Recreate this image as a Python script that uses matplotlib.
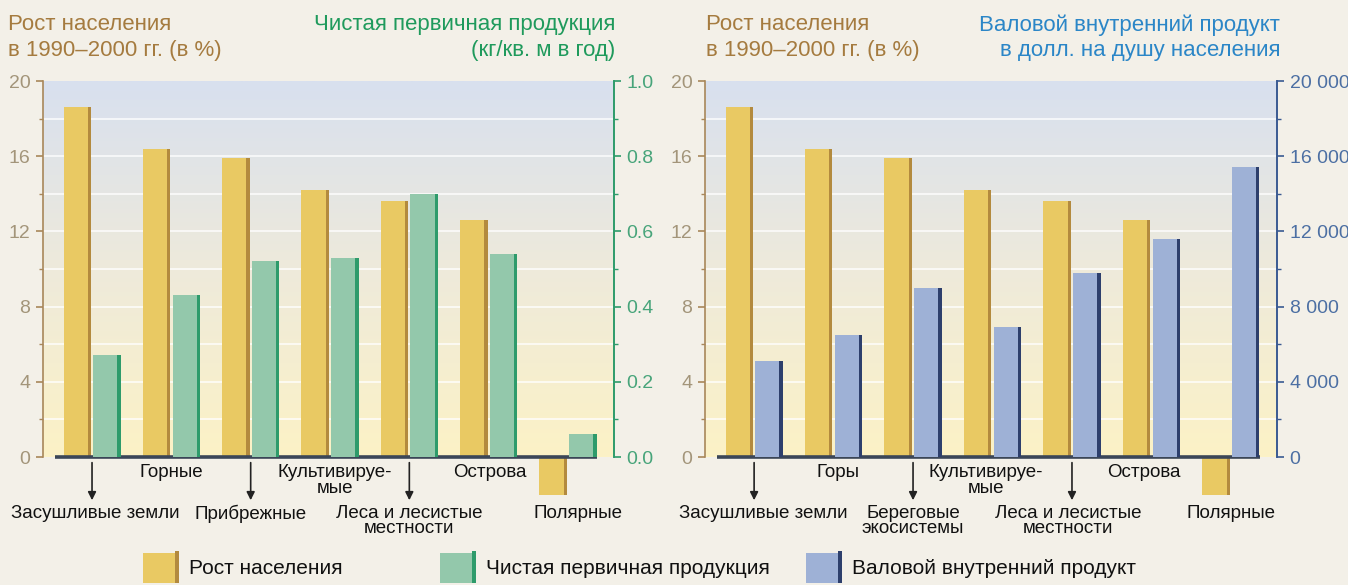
import numpy as np
import matplotlib
matplotlib.use('Agg')
import matplotlib.pyplot as plt
from matplotlib.patches import Rectangle
from matplotlib.colors import LinearSegmentedColormap
from matplotlib.ticker import MultipleLocator

plt.rcParams['font.family'] = ['Liberation Sans', 'DejaVu Sans']

# ---------------- data ----------------
categories_left = ['Засушливые земли', 'Горные', 'Прибрежные', 'Культивируе-\nмые',
                   'Леса и лесистые\nместности', 'Острова', 'Полярные']
categories_right = ['Засушливые земли', 'Горы', 'Береговые\nэкосистемы', 'Культивируе-\nмые',
                    'Леса и лесистые\nместности', 'Острова', 'Полярные']
population_growth = [18.6, 16.4, 15.9, 14.2, 13.6, 12.6, -2.0]
npp = [0.27, 0.43, 0.52, 0.53, 0.70, 0.54, 0.06]
gdp = [5100, 6500, 9000, 6900, 9800, 11600, 15400]
pop_ticks = [0, 4, 8, 12, 16, 20]
npp_ticks = [0.0, 0.2, 0.4, 0.6, 0.8, 1.0]
npp_tick_labels = ['0.0', '0.2', '0.4', '0.6', '0.8', '1.0']
gdp_ticks = [0, 4000, 8000, 12000, 16000, 20000]
gdp_tick_labels = ['0', '4 000', '8 000', '12 000', '16 000', '20 000']
legend_labels = ['Рост населения', 'Чистая первичная продукция', 'Валовой внутренний продукт']

# ---------------- style ----------------
W, H = 1348, 585
BG = '#f3f0e8'
YEL, YEL_E = '#e9c963', '#b38a3e'
GRN, GRN_E = '#93c8ab', '#2e9b6b'
BLU, BLU_E = '#9eb1d6', '#2d3f6c'
BROWN = '#a57b3f'
GREEN_T = '#1f9a5c'
BLUE_T = '#2b86c7'
TICK_L = '#a3957a'
TICK_G = '#47a47a'
TICK_B = '#4c6fa3'

fig = plt.figure(figsize=(W / 100, H / 100), dpi=100, facecolor=BG)

grad = LinearSegmentedColormap.from_list('bg', ['#fcf2c6', '#eeeadb', '#d8e0ef'])

bw = 0.345
off = 0.187
strip = 0.04


def fpx(x0, y0, w, h):
    return [x0 / W, 1 - (y0 + h) / H, w / W, h / H]


def draw_bars(ax, xs, vals, color, ecolor):
    ax.bar(xs, vals, width=bw, color=color, linewidth=0, zorder=3, clip_on=False)
    ax.bar(xs + bw / 2 - strip / 2, vals, width=strip, color=ecolor, linewidth=0,
           zorder=4, clip_on=False)


def panel(rect, series2, color2, ecolor2, ticks2, labels2, spine2, tick2c, cats, dxs):
    ax = fig.add_axes(rect)
    ax.set_xlim(-0.618, 6.58)
    ax.set_ylim(0, 20)
    ax.imshow(np.linspace(0, 1, 256).reshape(-1, 1), cmap=grad, aspect='auto',
              extent=(-0.618, 6.58, 0, 20), origin='lower', zorder=0)
    for g in np.arange(2, 20, 2):
        ax.axhline(g, color='white', lw=1.2, alpha=0.85, zorder=1)
    x = np.arange(len(cats))
    draw_bars(ax, x - off, np.array(population_growth), YEL, YEL_E)
    ax.plot([-0.47, 6.37], [0, 0], color='#3b4657', lw=2.6, zorder=6,
            solid_capstyle='butt', clip_on=False)
    for s in ['top', 'right', 'bottom']:
        ax.spines[s].set_visible(False)
    ax.spines['left'].set_color('#a8875a')
    ax.spines['left'].set_linewidth(1.2)
    ax.set_yticks(pop_ticks)
    ax.yaxis.set_minor_locator(MultipleLocator(2))
    ax.tick_params(axis='y', which='major', colors='#a8875a', labelcolor=TICK_L,
                   labelsize=14, length=5, width=1.2, pad=4)
    ax.tick_params(axis='y', which='minor', colors='#a8875a', length=3, width=1)
    ax.set_xticks([])

    ax2 = ax.twinx()
    top = ticks2[-1]
    ax2.set_ylim(0, top)
    draw_bars(ax2, x + off, np.array(series2), color2, ecolor2)
    for s in ['top', 'left', 'bottom']:
        ax2.spines[s].set_visible(False)
    ax2.spines['right'].set_color(spine2)
    ax2.spines['right'].set_linewidth(1.4)
    ax2.set_yticks(ticks2)
    ax2.set_yticklabels(labels2)
    ax2.yaxis.set_minor_locator(MultipleLocator(top / 10))
    ax2.tick_params(axis='y', which='major', colors=spine2, labelcolor=tick2c,
                    labelsize=14, length=5, width=1.2, pad=4)
    ax2.tick_params(axis='y', which='minor', colors=spine2, length=3, width=1)

    # category labels
    for i, (c, dx) in enumerate(zip(cats, dxs)):
        if i % 2 == 1:
            ax.text(i + dx, -0.38, c, ha='center', va='top', fontsize=13.5,
                    color='#111111', linespacing=0.88, clip_on=False)
        else:
            ax.text(i + dx, -2.55, c, ha='center', va='top', fontsize=13.5,
                    color='#111111', linespacing=0.88, clip_on=False)
            if i < 6:
                ax.annotate('', xy=(i, -2.3), xytext=(i, -0.3),
                            arrowprops=dict(arrowstyle='-|>', color='#222222', lw=1.2,
                                            mutation_scale=12, shrinkA=0, shrinkB=0),
                            annotation_clip=False)
    return ax, ax2


panel(fpx(43, 81, 571, 376), npp, GRN, GRN_E, npp_ticks, npp_tick_labels,
      '#2e9b6b', TICK_G, categories_left, [0.04, 0.0, 0.0, 0.06, 0.0, 0.02, 0.12])
panel(fpx(705, 81, 572, 376), gdp, BLU, BLU_E, gdp_ticks, gdp_tick_labels,
      '#3a5a92', TICK_B, categories_right, [0.11, 0.06, 0.0, -0.08, -0.05, -0.1, 0.0])

# ---------------- overlay: headers and legend ----------------
ov = fig.add_axes([0, 0, 1, 1], zorder=10)
ov.set_xlim(0, W)
ov.set_ylim(H, 0)
ov.axis('off')
ov.patch.set_visible(False)

hdr = dict(fontsize=16, va='top', linespacing=1.3)
ov.text(8, 14, 'Рост населения\nв 1990–2000 гг. (в %)', color=BROWN, ha='left', **hdr)
ov.text(615, 14, 'Чистая первичная продукция\n(кг/кв. м в год)', color=GREEN_T, ha='right',
        multialignment='right', **hdr)
ov.text(706, 14, 'Рост населения\nв 1990–2000 гг. (в %)', color=BROWN, ha='left', **hdr)
ov.text(1280, 14, 'Валовой внутренний продукт\nв долл. на душу населения', color=BLUE_T,
        ha='right', multialignment='right', **hdr)

leg = [(143, YEL, YEL_E), (440, GRN, GRN_E), (806, BLU, BLU_E)]
for (lx, c, e), lab in zip(leg, legend_labels):
    ov.add_patch(Rectangle((lx, 553), 32, 30, color=c, lw=0))
    ov.add_patch(Rectangle((lx + 32, 551), 4, 32, color=e, lw=0))
    ov.text(lx + 46, 568, lab, fontsize=15, color='#111111', ha='left', va='center')

fig.savefig('out.png', dpi=100, facecolor=BG)
